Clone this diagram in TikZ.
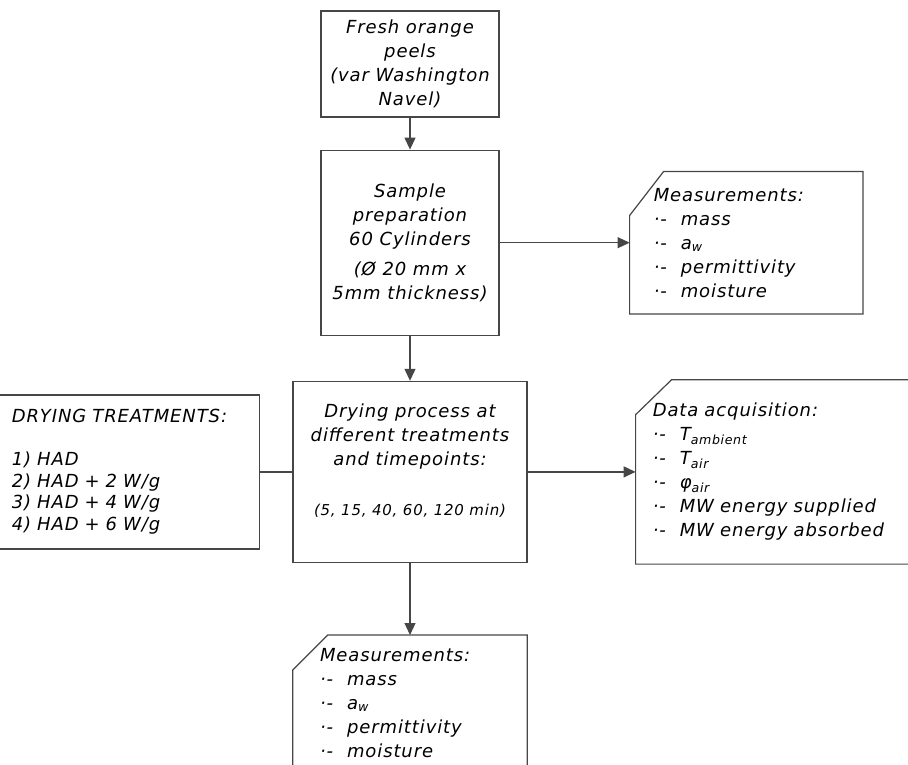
\documentclass[tikz,border=0pt]{standalone}
\usepackage{fontspec}
\setmainfont[LetterSpace=5]{DejaVu Sans}
\usepackage{tikz}
\usetikzlibrary{positioning,arrows.meta}
\definecolor{linegray}{RGB}{70,70,70}
\tikzstyle{box} = [rectangle, draw=linegray, line width=1.2pt, text=black, align=center, inner sep=0pt, font=\itshape\fontsize{18}{24}\selectfont]
\tikzstyle{note} = [rectangle, text=black, align=left, inner ysep=0pt, font=\itshape\fontsize{18}{24}\selectfont]
\tikzstyle{noteline} = [draw=linegray, line width=1.2pt]
\tikzstyle{tedge} = [draw=linegray, line width=1.2pt, -{Triangle[length=12pt,width=11pt]}]
\tikzstyle{tline} = [draw=linegray, line width=1.2pt]
\newcommand{\dashitem}{\makebox[27pt][l]{·-}}

\begin{document}
\begin{tikzpicture}[x=1pt,y=-1pt]
\clip (0,0) rectangle (908,765);

% main chain =============================
\node[box, minimum width=178pt, minimum height=106pt] (peel) at (410,64) {Fresh orange\\peels\\(var Washington\\Navel)};
\node[box, minimum width=178pt, minimum height=185pt, below=32pt of peel] (prep) {Sample\\preparation\\60 Cylinders\\[6pt](Ø 20 mm x\\5mm thickness)};
\node[box, minimum width=234pt, minimum height=181pt, below=45pt of prep] (dry) {Drying process at\\different treatments\\and timepoints:\\[26pt]{\fontsize{15}{20}\selectfont(5, 15, 40, 60, 120 min)}\\\mbox{}};

% treatments
\node[box, minimum width=271pt, minimum height=154pt, align=left, text width=225pt, left=32pt of dry, font=\itshape\fontsize{18}{21.5}\selectfont] (treat) {DRYING TREATMENTS:\\[21.5pt]1) HAD\\2) HAD + 2 W/g\\3) HAD + 4 W/g\\4) HAD + 6 W/g};

% notes
\node[note, minimum width=233pt, minimum height=142pt, text width=185pt, right=130pt of prep] (meas1) {Measurements:\\\dashitem mass\\\dashitem a\textsubscript{w}\\\dashitem permittivity\\\dashitem moisture};
\node[note, minimum width=300pt, minimum height=184pt, text width=266pt, right=108pt of dry] (acq) {Data acquisition:\\\dashitem T\textsubscript{ambient}\\\dashitem T\textsubscript{air}\\\dashitem φ\textsubscript{air}\\\dashitem MW energy supplied\\\dashitem MW energy absorbed};
\node[note, minimum width=234pt, minimum height=160pt, below=72pt of dry] (meas2) {};
\node[note, inner sep=0pt, below right=13pt and 27pt of meas2.north west] (meas2text) {Measurements:\\\dashitem mass\\\dashitem a\textsubscript{w}\\\dashitem permittivity\\\dashitem moisture};

\draw[noteline] ([yshift=-44pt]meas1.north west) -- ([xshift=34pt]meas1.north west) -- (meas1.north east) -- (meas1.south east) -- (meas1.south west) -- cycle;
\draw[noteline] ([yshift=-35pt]acq.north west) -- ([xshift=36pt]acq.north west) -- (acq.north east) -- (acq.south east) -- (acq.south west) -- cycle;
\draw[noteline] ([yshift=-35pt]meas2.north west) -- ([xshift=35pt]meas2.north west) -- (meas2.north east) -- (meas2.south east) -- (meas2.south west) -- cycle;

%edges
\path[tedge] (peel) -- (prep);
\path[tedge] (prep) -- (meas1);
\path[tedge] (prep) -- (dry);
\path[tline] (treat) -- (dry);
\path[tedge] (dry) -- (acq);
\path[tedge] (dry) -- (meas2);

\end{tikzpicture}
\end{document}
